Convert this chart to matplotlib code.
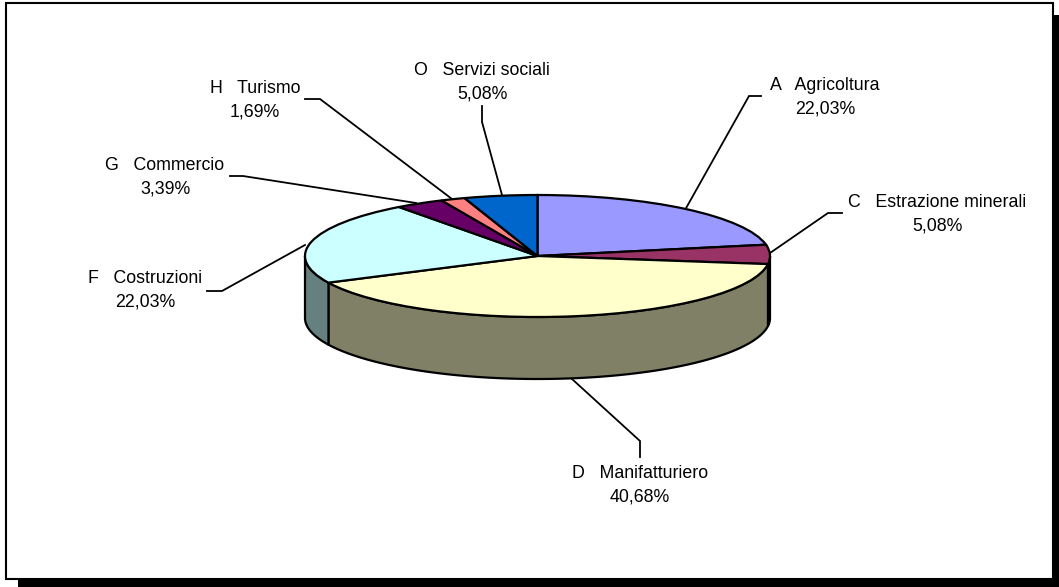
import numpy as np
import matplotlib
matplotlib.use("Agg")
import matplotlib.pyplot as plt
from matplotlib.patches import Rectangle

plt.rcParams['font.family'] = ['Liberation Sans', 'DejaVu Sans']

W, H = 1059, 587

categories = ["A   Agricoltura", "C   Estrazione minerali", "D   Manifatturiero", "F   Costruzioni",
              "G   Commercio", "H   Turismo", "O   Servizi sociali"]
shares = [22.03, 5.08, 40.68, 22.03, 3.39, 1.69, 5.08]
top_colors = ["#9999FF", "#993366", "#FFFFCC", "#CCFFFF", "#660066", "#FF8080", "#0066CC"]
side_colors = ["#4D4D80", "#4D1A33", "#808066", "#668080", "#330033", "#804040", "#003366"]

# label centre and leader path, in pixels of the picture
label_pos = [(825, 97), (937, 214), (640, 485.5), (145, 290), (165, 177), (255, 100), (482, 82)]
leaders = [
    [(685, 210), (749, 96), (761, 96)],
    [(770, 253), (828, 213), (842, 213)],
    [(572, 379), (640, 441), (640, 457)],
    [(305, 245), (222, 291), (207, 291)],
    [(416, 203), (243, 176), (230, 176)],
    [(452, 199), (320, 99), (305, 99)],
    [(502, 195), (482, 122), (482, 106)],
]

CX, CY = 537.5, 256
RX, RY = 232.5, 61
DEPTH = 62


def rim(deg):
    t = np.radians(deg)
    return CX + RX * np.sin(t), CY - RY * np.cos(t)


fig = plt.figure(figsize=(W / 100, H / 100), dpi=100)
ax = fig.add_axes([0, 0, 1, 1])
ax.set_xlim(0, W)
ax.set_ylim(H, 0)
ax.axis("off")

# frame and its shadow
ax.add_patch(Rectangle((18, 15), 1041, 572, fc="black", ec="none", zorder=0))
ax.add_patch(Rectangle((5.5, 2.5), 1047, 576.5, fc="white", ec="black", lw=1.5, zorder=1))

# side wall, only the front half of the rim shows
edges = np.concatenate([[0], np.cumsum(shares)]) * 3.6
for i in range(len(shares)):
    a0, a1 = max(edges[i], 90), min(edges[i + 1], 270)
    if a1 <= a0:
        continue
    ts = np.linspace(a0, a1, 80)
    xs, ys = rim(ts)
    ax.fill(np.r_[xs, xs[::-1]], np.r_[ys, ys[::-1] + DEPTH], fc=side_colors[i], ec="black", lw=1.6,
            joinstyle="round", zorder=2)

# top face
pie_ax = fig.add_axes([(CX - RX) / W, 1 - (CY + RY) / H, 2 * RX / W, 2 * RY / H])
pie_ax.pie(shares, colors=top_colors, startangle=90, counterclock=False, radius=1,
           wedgeprops={"edgecolor": "black", "linewidth": 1.6})
pie_ax.set_aspect("auto")
pie_ax.set_xlim(-1, 1)
pie_ax.set_ylim(-1, 1)
for w in pie_ax.patches:
    w.set_clip_on(False)

for path in leaders:
    px, py = zip(*path)
    ax.plot(px, py, color="black", lw=1.3, zorder=3, solid_joinstyle="miter")

for name, share, (lx, ly) in zip(categories, shares, label_pos):
    label = name + "\n" + f"{share:.2f}".replace(".", ",") + "%"
    ax.text(lx, ly, label, ha="center", va="center", fontsize=12.8, linespacing=1.48, color="black", zorder=4)

fig.savefig("out.png", dpi=100)
